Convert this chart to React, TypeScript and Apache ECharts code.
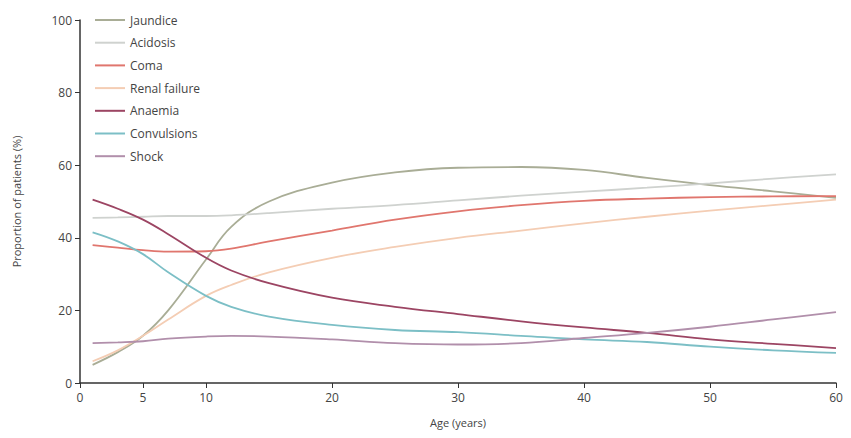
import React, { useEffect, useRef } from "react";
import * as echarts from "echarts";

const ages = [1, 3, 5, 7, 10, 12, 15, 20, 25, 30, 35, 40, 45, 50, 55, 60];
const xTicks = [0, 5, 10, 20, 30, 40, 50, 60];

const jaundice = [5, 8.5, 13, 20, 34, 43, 50, 55.2, 58, 59.3, 59.5, 58.7, 56.5, 54.5, 52.8, 51];
const acidosis = [45.5, 45.6, 45.8, 46, 46, 46.2, 46.8, 48, 49, 50.3, 51.6, 52.7, 53.8, 55, 56.3, 57.5];
const coma = [38, 37.3, 36.6, 36.2, 36.3, 37, 39, 42, 45, 47.3, 49, 50.2, 50.8, 51.2, 51.4, 51.5];
const renalFailure = [6, 9, 13, 17.5, 24, 27, 30.5, 34.5, 37.5, 40, 42, 44, 45.8, 47.5, 49, 50.5];
const anaemia = [50.5, 48, 45, 41, 34.5, 31, 27.5, 23.5, 21, 19, 17, 15.3, 13.8, 12, 10.8, 9.6];
const convulsions = [41.5, 39, 35.5, 30.5, 24, 21, 18.3, 16, 14.6, 14, 13, 12, 11.3, 10, 9, 8.3];
const shock = [11, 11.2, 11.5, 12.2, 12.8, 13, 12.8, 12, 11, 10.6, 11, 12.4, 13.8, 15.5, 17.5, 19.5];

const seriesDefs = [
  { name: "Jaundice", data: jaundice, color: "#a9ad96" },
  { name: "Acidosis", data: acidosis, color: "#cfd2cf" },
  { name: "Coma", data: coma, color: "#e0766e" },
  { name: "Renal failure", data: renalFailure, color: "#f4cdb4" },
  { name: "Anaemia", data: anaemia, color: "#9c4563" },
  { name: "Convulsions", data: convulsions, color: "#7cbfc6" },
  { name: "Shock", data: shock, color: "#b18fab" },
];

export default function App() {
  const ref = useRef<HTMLDivElement>(null);
  useEffect(() => {
    if (!ref.current) return;
    const chart = echarts.init(ref.current, undefined, { renderer: "svg" });
    const font = "'Open Sans', 'Liberation Sans', sans-serif";
    chart.setOption({
      animation: false,
      textStyle: { fontFamily: font },
      grid: { left: 80, right: 15, top: 20, bottom: 55 },
      legend: {
        orient: "vertical",
        left: 90,
        top: 7,
        itemWidth: 30,
        itemHeight: 14,
        itemGap: 6.7,
        icon: "path://M0,0 L30,0 L30,2 L0,2 Z",
        textStyle: { fontSize: 12, color: "#444", fontFamily: font, lineHeight: 16 },
        data: seriesDefs.map((s) => s.name),
      },
      xAxis: {
        type: "value",
        min: 0,
        max: 60,
        interval: 5,
        name: "Age (years)",
        nameLocation: "middle",
        nameGap: 34,
        nameTextStyle: { fontSize: 11, color: "#444" },
        splitLine: { show: false },
        axisLine: { lineStyle: { color: "#333", width: 1.5 } },
        axisTick: { customValues: xTicks, length: 5, lineStyle: { color: "#333" } },
        axisLabel: { customValues: xTicks, fontSize: 12, color: "#444", margin: 8 },
      },
      yAxis: {
        type: "value",
        min: 0,
        max: 100,
        interval: 20,
        name: "Proportion of patients (%)",
        nameLocation: "middle",
        nameGap: 58,
        nameTextStyle: { fontSize: 11, color: "#444" },
        splitLine: { show: false },
        axisLine: { show: true, lineStyle: { color: "#333", width: 1.5 } },
        axisTick: { show: true, length: 5, lineStyle: { color: "#333" } },
        axisLabel: { fontSize: 12, color: "#444", margin: 8 },
      },
      series: seriesDefs.map((s) => ({
        name: s.name,
        type: "line",
        smooth: 0.4,
        symbol: "none",
        data: ages.map((a, i) => [a, s.data[i]]),
        lineStyle: { color: s.color, width: 1.8 },
        itemStyle: { color: s.color },
      })),
    });
    return () => chart.dispose();
  }, []);
  return (
    <div
      ref={ref}
      style={{ position: "absolute", left: 0, top: 0, width: 851, height: 438 }}
    />
  );
}
